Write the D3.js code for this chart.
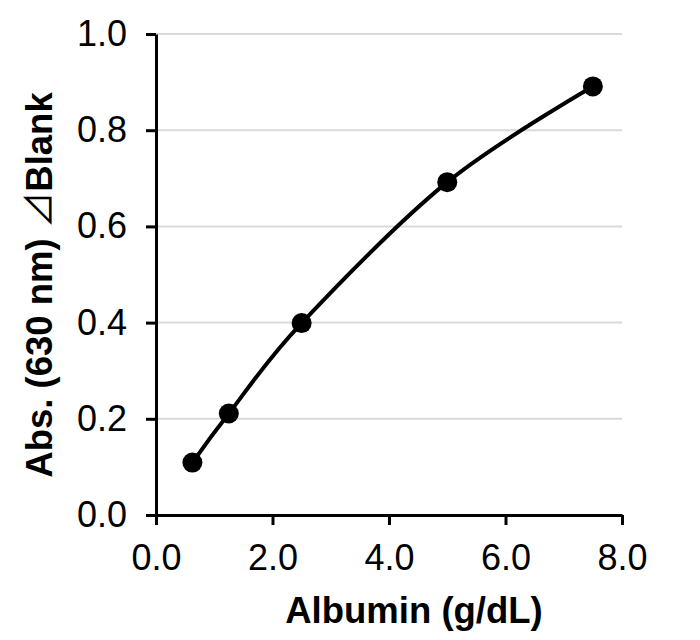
<!DOCTYPE html>
<html>
<head>
<meta charset="utf-8">
<script src="https://cdn.jsdelivr.net/npm/d3@7"></script>
<style>
  body { margin: 0; background: #fff; }
  svg text { font-family: "Liberation Sans", Arial, sans-serif; fill: #000; }
</style>
</head>
<body>
<div id="chart"></div>
<script>
// albumin standard curve
var albumin = [0.625, 1.25, 2.5, 5.0, 7.5];
var absorbance = [0.109, 0.211, 0.399, 0.692, 0.891];
var xTicks = [0, 2, 4, 6, 8];
var yTicks = [0, 0.2, 0.4, 0.6, 0.8, 1.0];
var xTitle = "Albumin (g/dL)";
var yTitleParts = ["Abs. (630 nm) ", "\u22BF", "Blank"];

var W = 700, H = 640;
var margin = {top: 34, right: 78, bottom: 125, left: 156},
    width = W - margin.left - margin.right,
    height = H - margin.top - margin.bottom;

var data = albumin.map(function(d, i) { return {x: d, y: absorbance[i]}; });

var x = d3.scaleLinear().domain([0, 8]).range([0, width]);
var y = d3.scaleLinear().domain([0, 1]).range([height, 0]);

var svg = d3.select("#chart").append("svg").attr("width", W).attr("height", H);
var g = svg.append("g").attr("transform", "translate(" + margin.left + "," + margin.top + ")");

// gridlines
g.selectAll("line.grid").data(yTicks.slice(1)).enter()
  .append("line").attr("class", "grid")
  .attr("x1", 0).attr("x2", width)
  .attr("y1", function(d) { return y(d); }).attr("y2", function(d) { return y(d); })
  .style("stroke", "#d9d9d9").style("stroke-width", 2);

// axes
var xAxis = d3.axisBottom(x).tickValues(xTicks).tickFormat(d3.format(".1f"))
  .tickSize(10).tickSizeOuter(0).tickPadding(19);
var yAxis = d3.axisLeft(y).tickValues(yTicks).tickFormat(d3.format(".1f"))
  .tickSize(10).tickSizeOuter(0).tickPadding(19);

var gx = g.append("g").attr("transform", "translate(0," + height + ")").call(xAxis);
var gy = g.append("g").call(yAxis);
[gx, gy].forEach(function(a) {
  a.select(".domain").style("stroke", "#000").style("stroke-width", 3);
  a.selectAll(".tick line").style("stroke", "#000").style("stroke-width", 3);
  a.selectAll(".tick text").style("font-size", "36px")
    .style("font-family", "'Liberation Sans', Arial, sans-serif");
});

// smoothed line
var line = d3.line()
  .x(function(d) { return x(d.x); })
  .y(function(d) { return y(d.y); })
  .curve(d3.curveCatmullRom.alpha(0));
g.append("path").datum(data).attr("d", line)
  .style("fill", "none").style("stroke", "#000").style("stroke-width", 4);

// markers
g.selectAll("circle").data(data).enter()
  .append("circle").attr("cx", function(d) { return x(d.x); }).attr("cy", function(d) { return y(d.y); })
  .attr("r", 10).style("fill", "#000");

// axis titles
svg.append("text").attr("x", 414).attr("y", 623)
  .attr("text-anchor", "middle").style("font-size", "36.5px").style("font-weight", "bold")
  .text(xTitle);

var yt = svg.append("text").attr("transform", "translate(52,285) rotate(-90)")
  .attr("text-anchor", "middle").style("font-size", "36.5px").style("font-weight", "bold");
yt.append("tspan").text(yTitleParts[0]);
yt.append("tspan").style("font-family", "'Noto Sans CJK JP', 'DejaVu Sans', sans-serif")
  .style("font-weight", "normal").text(yTitleParts[1]);
yt.append("tspan").text(yTitleParts[2]);
</script>
</body>
</html>
